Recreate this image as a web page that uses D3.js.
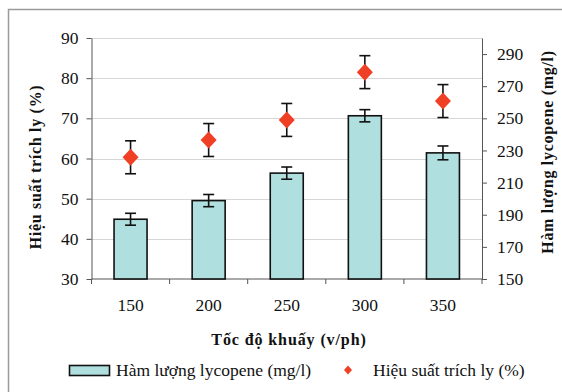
<!DOCTYPE html>
<html>
<head>
<meta charset="utf-8">
<script src="https://cdn.jsdelivr.net/npm/d3@7/dist/d3.min.js"></script>
<style>
  html, body { margin: 0; padding: 0; background: #fff; }
  svg text { font-family: "Liberation Serif", "Times New Roman", "DejaVu Serif", serif !important; }
</style>
</head>
<body>
<svg id="chart" width="562" height="392"></svg>
<script>
// Stirring speed (v/ph)
const speeds = ["150", "200", "250", "300", "350"];
// Lycopene content (mg/l), right axis, with error
const lycopene = [187.2, 198.8, 215.9, 251.6, 228.5];
const lycopeneErr = [3.7, 3.8, 3.8, 3.8, 4.3];
// Extraction yield (%), left axis, with error
const yieldPct = [60.3, 64.6, 69.6, 81.5, 74.3];
const yieldErr = [4.1, 4.1, 4.1, 4.1, 4.1];
// Tick values
const leftTicks = [30, 40, 50, 60, 70, 80, 90];
const rightTicks = [150, 170, 190, 210, 230, 250, 270, 290];

const svg = d3.select("#chart");
const plot = { left: 91.5, right: 482, top: 38, bottom: 279 };

// outer frame
svg.append("rect")
  .attr("x", 8.5).attr("y", 9.5)
  .attr("width", 600).attr("height", 420)
  .attr("fill", "none").attr("stroke", "#9a9a9a").attr("stroke-width", 1.5);

const x = d3.scaleBand().domain(speeds).range([plot.left, plot.right]);
const yL = d3.scaleLinear().domain([30, 90]).range([plot.bottom, plot.top]);
const yR = d3.scaleLinear().domain([150, 300]).range([plot.bottom, plot.top]);

// gridlines
svg.append("g").selectAll("line").data(leftTicks.slice(1)).join("line")
  .attr("x1", plot.left).attr("x2", plot.right)
  .attr("y1", d => Math.round(yL(d)) + 0.5).attr("y2", d => Math.round(yL(d)) + 0.5)
  .attr("stroke", "#d6d6d6").attr("stroke-width", 1.2);

const axisColor = "#555";
const tickFont = 17.5;

// left axis
const gL = svg.append("g").attr("transform", `translate(${plot.left},0)`)
  .call(d3.axisLeft(yL).tickValues(leftTicks).tickSize(5).tickPadding(8).tickSizeOuter(0));
// right axis
const gR = svg.append("g").attr("transform", `translate(${plot.right},0)`)
  .call(d3.axisRight(yR).tickValues(rightTicks).tickSize(5).tickPadding(10).tickSizeOuter(0));
// bottom axis: ticks sit between categories
const gB = svg.append("g").attr("transform", `translate(0,${plot.bottom})`);
gB.append("line").attr("x1", plot.left).attr("x2", plot.right).attr("stroke", axisColor);
const bounds = speeds.map(s => x(s)).concat([plot.right]);
gB.selectAll("line.tk").data(bounds).join("line").attr("class", "tk")
  .attr("x1", d => d).attr("x2", d => d).attr("y1", 0).attr("y2", 5).attr("stroke", axisColor);
gB.selectAll("text").data(speeds).join("text")
  .attr("x", d => x(d) + x.bandwidth() / 2).attr("y", 32)
  .attr("text-anchor", "middle").attr("font-size", tickFont).attr("fill", "#111")
  .text(d => d);

[gL, gR].forEach(g => {
  g.attr("font-family", null);
  g.select(".domain").attr("stroke", axisColor);
  g.selectAll(".tick line").attr("stroke", axisColor);
  g.selectAll(".tick text").attr("font-size", tickFont).attr("fill", "#111");
});

// bars (lycopene)
const barW = 33;
svg.append("g").selectAll("rect").data(speeds).join("rect")
  .attr("x", d => x(d) + x.bandwidth() / 2 - barW / 2)
  .attr("y", (d, i) => yR(lycopene[i]))
  .attr("width", barW)
  .attr("height", (d, i) => yR(150) - yR(lycopene[i]))
  .attr("fill", "#b0dfdf").attr("stroke", "#111").attr("stroke-width", 1.6);

// error bars helper
function errBars(vals, errs, scale) {
  const g = svg.append("g").attr("stroke", "#111").attr("stroke-width", 1.6);
  speeds.forEach((s, i) => {
    const cx = x(s) + x.bandwidth() / 2;
    const y1 = scale(vals[i] + errs[i]), y2 = scale(vals[i] - errs[i]);
    g.append("line").attr("x1", cx).attr("x2", cx).attr("y1", y1).attr("y2", y2);
    g.append("line").attr("x1", cx - 5.5).attr("x2", cx + 5.5).attr("y1", y1).attr("y2", y1);
    g.append("line").attr("x1", cx - 5.5).attr("x2", cx + 5.5).attr("y1", y2).attr("y2", y2);
  });
}
errBars(lycopene, lycopeneErr, yR);
errBars(yieldPct, yieldErr, yL);

// diamonds (yield)
const red = "#ef3f24";
const diamond = (w, h) => `M0,${-h / 2}L${w / 2},0L0,${h / 2}L${-w / 2},0Z`;
svg.append("g").selectAll("path").data(speeds).join("path")
  .attr("transform", (d, i) => `translate(${x(d) + x.bandwidth() / 2},${yL(yieldPct[i])})`)
  .attr("d", diamond(16, 17)).attr("fill", red);

// axis titles
svg.append("text")
  .attr("transform", `translate(41,167) rotate(-90)`)
  .attr("text-anchor", "middle").attr("font-size", 16).attr("font-weight", "bold")
  .attr("letter-spacing", 0.7).attr("fill", "#111")
  .text("Hiệu suất trích ly (%)");
svg.append("text")
  .attr("transform", `translate(553,152) rotate(-90)`)
  .attr("text-anchor", "middle").attr("font-size", 16).attr("font-weight", "bold")
  .attr("letter-spacing", 0.7).attr("fill", "#111")
  .text("Hàm lượng lycopene (mg/l)");
svg.append("text")
  .attr("x", 289).attr("y", 345)
  .attr("text-anchor", "middle").attr("font-size", 16).attr("font-weight", "bold")
  .attr("letter-spacing", 0.9).attr("fill", "#111")
  .text("Tốc độ khuấy (v/ph)");

// legend
const lg = svg.append("g");
lg.append("rect").attr("x", 69.5).attr("y", 365.5).attr("width", 40).attr("height", 10)
  .attr("fill", "#b0dfdf").attr("stroke", "#111").attr("stroke-width", 1.6);
lg.append("text").attr("x", 116).attr("y", 376).attr("font-size", 17.5).attr("fill", "#111")
  .text("Hàm lượng lycopene (mg/l)");
lg.append("path").attr("transform", "translate(348,370)").attr("d", diamond(8, 9)).attr("fill", red);
lg.append("text").attr("x", 373).attr("y", 376).attr("font-size", 17.5).attr("fill", "#111")
  .text("Hiệu suất trích ly (%)");
</script>
</body>
</html>
